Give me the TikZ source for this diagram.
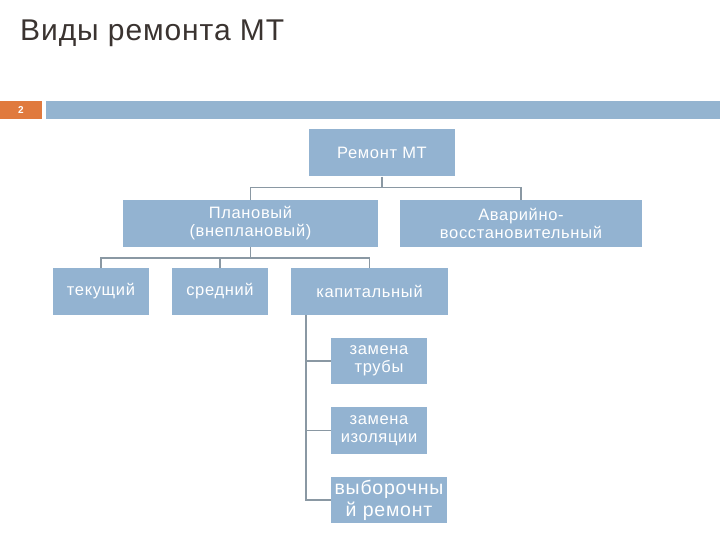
\documentclass[tikz,border=0pt]{standalone}
\usepackage{fontspec}
\setmainfont{Liberation Sans}
\newfontfamily\boxfont[LetterSpace=4]{Liberation Sans}
\newfontfamily\titlefont[LetterSpace=3]{Liberation Sans}
\definecolor{boxblue}{HTML}{93B3D1}
\definecolor{barblue}{HTML}{94B4D0}
\definecolor{barorange}{HTML}{E07A3E}
\definecolor{linegray}{HTML}{8A98A3}
\definecolor{titlecol}{HTML}{3A3330}
\begin{document}
\begin{tikzpicture}[x=1pt,y=-1pt,
  box/.style={fill=boxblue, draw=none, text=white, align=center, inner sep=0pt, font=\boxfont\fontsize{16.5}{18}\selectfont},
  conn/.style={draw=linegray, line width=1.6pt}]
\useasboundingbox (0,0) rectangle (720,540);
% header
\node[anchor=base west, text=titlecol, font=\titlefont\fontsize{30}{34}\selectfont, inner sep=0pt] (title) at (20,41) {Виды ремонта МТ};
\fill[barorange] (0,101) rectangle (42,119);
\node[text=white, font=\bfseries\fontsize{10}{12}\selectfont] (num) at (21,110) {2};
\fill[barblue] (46,101) rectangle (720,119);
% boxes
\node[box, minimum width=146pt, minimum height=47pt] (root) at (382,153) {Ремонт МТ};
\node[box, minimum width=255pt, minimum height=47pt] (plan) at (250.5,223.5) {Плановый\\(внеплановый)};
\node[box, minimum width=242pt, minimum height=47pt] (avar) at (521,223.5) {Аварийно-\\восстановительный};
\node[box, minimum width=96pt, minimum height=47pt] (tek) at (101,291.5) {текущий};
\node[box, minimum width=96pt, minimum height=47pt] (sred) at (220,291.5) {средний};
\node[box, minimum width=157pt, minimum height=47pt] (kap) at (369.5,291.5) {капитальный};
\node[box, minimum width=96pt, minimum height=46pt] (truba) at (379,361) {замена\\трубы};
\node[box, minimum width=96pt, minimum height=47pt] (izol) at (379,430.5) {замена\\изоляции};
\node[box, minimum width=116pt, minimum height=46pt, font=\boxfont\fontsize{19.5}{22}\selectfont] (vyb) at (389,500) {выборочны\\й ремонт};
% connectors
\coordinate (j1) at (382,187.5);
\draw[conn] (root.south) -- (j1);
\draw[conn] (plan.north) |- (j1) -| (avar.north);
\coordinate (j2) at (250.5,258);
\draw[conn] (plan.south) -- (j2);
\draw[conn] (tek.north) |- (j2) -| (kap.north);
\draw[conn] (sred.north) -- (sred.north |- j2);
\coordinate (k) at (306,315);
\draw[conn] (k) |- (vyb.west);
\draw[conn] (k |- truba.west) -- (truba.west);
\draw[conn] (k |- izol.west) -- (izol.west);
\end{tikzpicture}
\end{document}
